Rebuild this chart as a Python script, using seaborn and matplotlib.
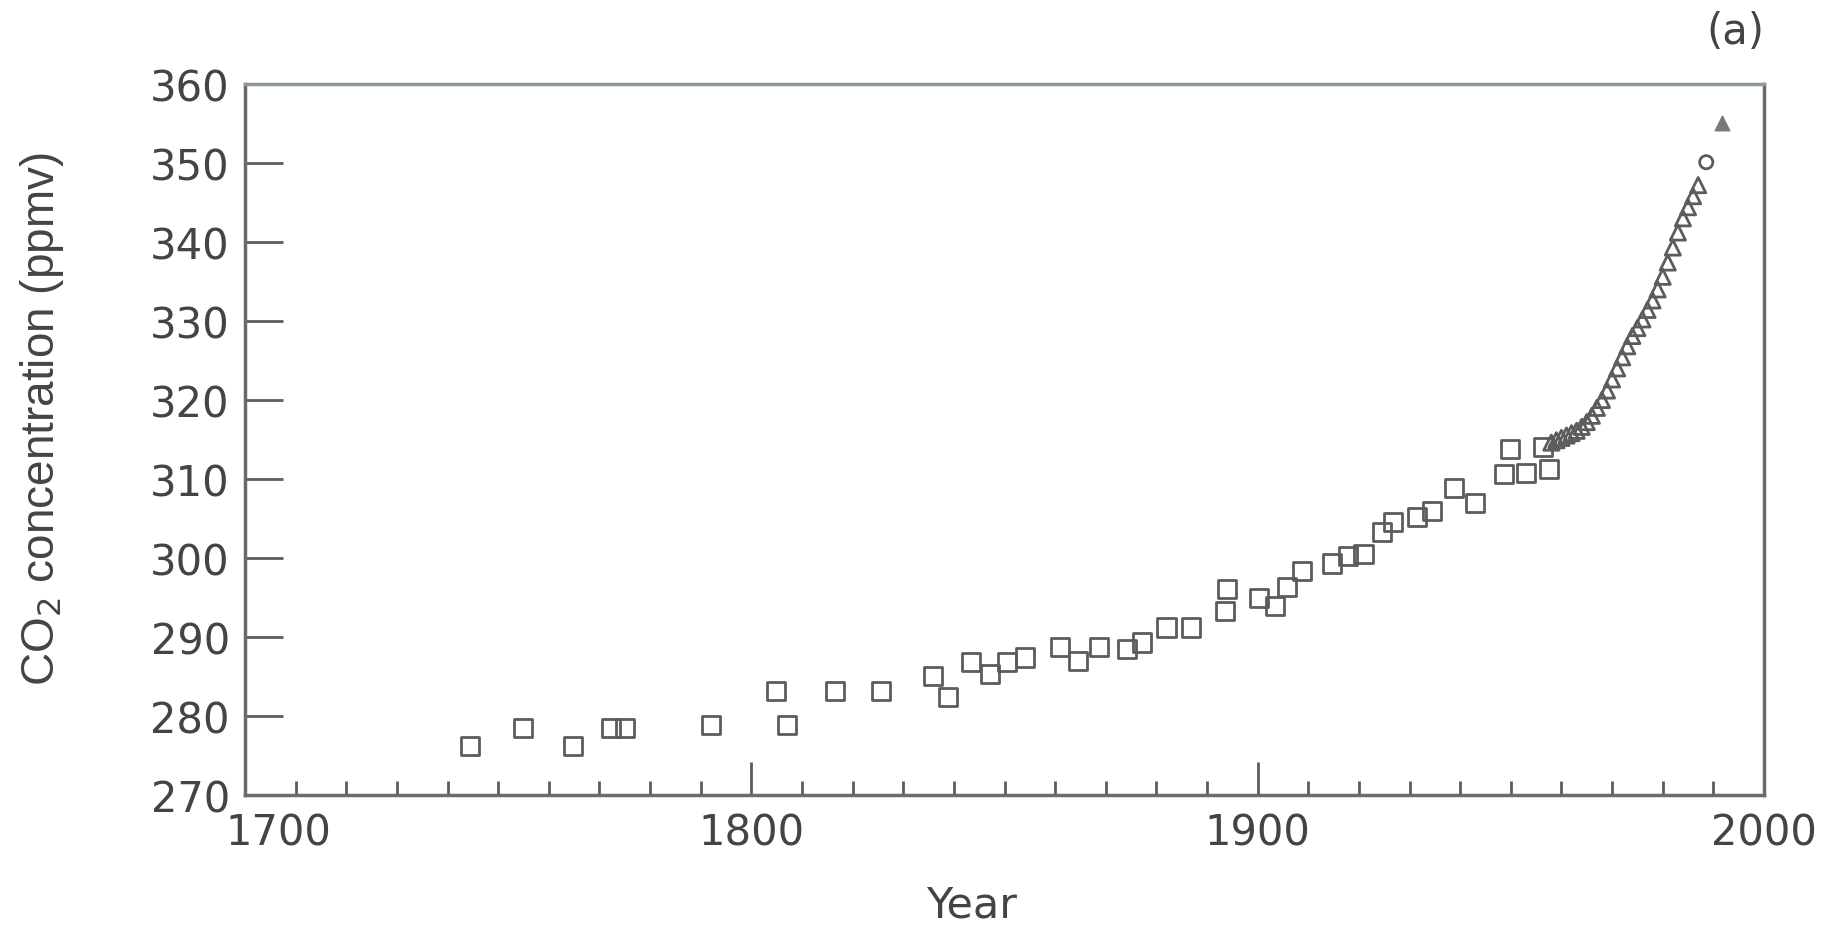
import matplotlib
matplotlib.use("Agg")
import matplotlib.pyplot as plt
import matplotlib.transforms as mtransforms
from matplotlib.ticker import MultipleLocator
import seaborn as sns

# ── Data ──────────────────────────────────────────────────────────────────────
# ice core samples (open squares)
core_year = [1744.5, 1754.9, 1764.7, 1772.3, 1775.0, 1792.1, 1804.8, 1807.0,
             1816.6, 1825.6, 1835.9, 1838.9, 1843.4, 1847.1, 1850.5, 1854.1,
             1861.0, 1864.6, 1868.6, 1874.2, 1877.2, 1882.0, 1886.8, 1893.6,
             1893.9, 1900.2, 1903.5, 1905.8, 1908.7, 1914.6, 1917.9, 1920.9,
             1924.5, 1926.8, 1931.5, 1934.4, 1938.7, 1943.0, 1948.7, 1949.9,
             1953.0, 1956.3, 1957.5]
core_co2 = [276.2, 278.5, 276.2, 278.5, 278.5, 278.9, 283.2, 278.9,
            283.2, 283.2, 285.1, 282.4, 286.8, 285.3, 286.8, 287.4,
            288.7, 287.0, 288.7, 288.5, 289.3, 291.2, 291.2, 293.3,
            296.1, 294.9, 293.9, 296.3, 298.4, 299.3, 300.3, 300.5,
            303.3, 304.5, 305.2, 306.0, 308.9, 307.0, 310.6, 313.8,
            310.8, 314.0, 311.3]

# direct atmospheric measurements (open triangles)
atm_year = [1958, 1959, 1960, 1961, 1962, 1963, 1964, 1965, 1966, 1967,
            1968, 1969, 1970, 1971, 1972, 1973, 1974, 1975, 1976, 1977,
            1978, 1979, 1980, 1981, 1982, 1983, 1984, 1985, 1986, 1987]
atm_co2 = [314.6, 314.9, 315.2, 315.5, 315.8, 316.1, 316.6, 317.2, 318.0, 319.0,
           320.0, 321.2, 322.6, 324.0, 325.4, 326.8, 328.1, 329.1, 330.2, 331.4,
           332.6, 334.0, 335.6, 337.4, 339.3, 341.2, 343.0, 344.4, 345.8, 347.2]

# last two single points
circle_year = [1988.6]
circle_co2 = [350.1]
tri_year = [1991.7]
tri_co2 = [355.1]

# ── Styling ───────────────────────────────────────────────────────────────────
GRAY = "#5c5c5c"
TEXT = "#444444"
sns.set_style("ticks")
plt.rcParams["font.family"] = ["DejaVu Sans"]

fig = plt.figure(figsize=(18.44, 9.29), dpi=100)
ax = fig.add_axes([0.1329, 0.1432, 0.8237, 0.7653])

sns.scatterplot(x=core_year, y=core_co2, marker="s", s=170,
                facecolor="none", edgecolor=GRAY, linewidth=2.0, ax=ax)
sns.scatterplot(x=atm_year, y=atm_co2, marker="^", s=120,
                facecolor="none", edgecolor=GRAY, linewidth=2.0, ax=ax)
sns.scatterplot(x=circle_year, y=circle_co2, marker="o", s=90,
                facecolor="none", edgecolor=GRAY, linewidth=2.0, ax=ax)
sns.scatterplot(x=tri_year, y=tri_co2, marker="^", s=110,
                color="#7a7a7a", edgecolor="#7a7a7a", linewidth=1.0, ax=ax)

ax.set_xlim(1700, 2000)
ax.set_ylim(270, 360)
ax.set_xticks([1700, 1800, 1900, 2000])
ax.xaxis.set_minor_locator(MultipleLocator(10))
ax.set_yticks(range(270, 361, 10))

ax.tick_params(axis="x", which="major", direction="in", length=24, width=2,
               color=GRAY, labelsize=30, labelcolor=TEXT, pad=12)
ax.tick_params(axis="x", which="minor", direction="in", length=10, width=2,
               color=GRAY)
ax.tick_params(axis="y", which="major", direction="in", length=27, width=2,
               color=GRAY, labelsize=30, labelcolor=TEXT, pad=11)

for side in ["left", "bottom", "right"]:
    ax.spines[side].set_visible(True)
    ax.spines[side].set_color("#6a6a6a")
    ax.spines[side].set_linewidth(2.5)
ax.spines["top"].set_visible(True)
ax.spines["top"].set_color("#8a9c8a")
ax.spines["top"].set_linewidth(2.5)

# the 1700 label sits to the right of its tick in the original
for lab in ax.get_xticklabels():
    if lab.get_text() == "1700":
        lab.set_transform(lab.get_transform() +
                          mtransforms.ScaledTranslation(0.33, 0, fig.dpi_scale_trans))

ax.set_xlabel("Year", fontsize=31, color=TEXT)
ax.xaxis.set_label_coords(0.478, -0.125)
ax.set_ylabel("CO$_2$ concentration (ppmv)", fontsize=33, color=TEXT,
              family=["Liberation Sans", "DejaVu Sans"])
ax.yaxis.set_label_coords(-0.118, 0.53)

ax.text(1.0, 1.045, "(a)", transform=ax.transAxes, ha="right", va="bottom",
        fontsize=30, color=TEXT)

fig.savefig("out.png", dpi=100)
plt.close(fig)
